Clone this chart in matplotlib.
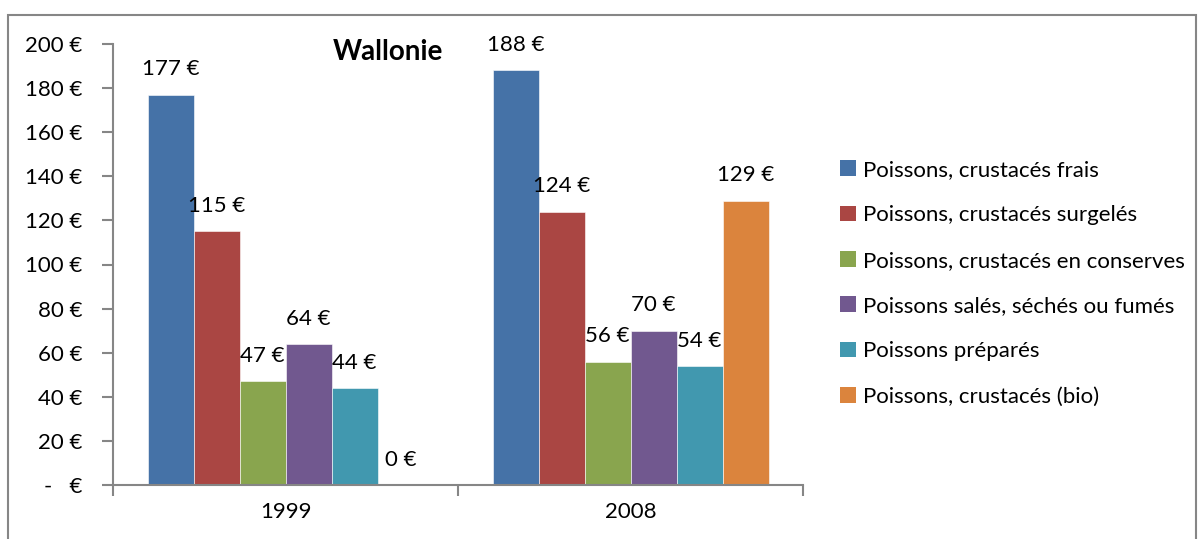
import numpy as np
import matplotlib.pyplot as plt
from matplotlib.patches import Rectangle, Patch

years = ['1999', '2008']
series = ['Poissons, crustacés frais',
          'Poissons, crustacés surgelés',
          'Poissons, crustacés en conserves',
          'Poissons salés, séchés ou fumés',
          'Poissons préparés',
          'Poissons, crustacés (bio)']
frais = [177, 188]
surgeles = [115, 124]
conserves = [47, 56]
sales = [64, 70]
prepares = [44, 54]
bio = [0, 129]
values = [frais, surgeles, conserves, sales, prepares, bio]
colors = ['#4572A7', '#AA4643', '#89A54E', '#71588F', '#4198AF', '#DB843D']

plt.rcParams['font.family'] = ['Lato', 'DejaVu Sans']
W, H = 1199, 539
fig = plt.figure(figsize=(W / 100, H / 100), dpi=100)

# outer chart border
fig.patches.append(Rectangle((8 / W, -0.05), (1196 - 8) / W, 1.05 - 15 / H,
                             transform=fig.transFigure, fill=False,
                             edgecolor='#868686', linewidth=1.5))

ax = fig.add_axes([113 / W, (H - 485) / H, 690 / W, 441 / H])
axis_col = '#868686'
w = 46 / 345
x = np.arange(len(years)) + 0.5
for j, (vals, c) in enumerate(zip(values, colors)):
    pos = x + (j - 2.5) * w
    ax.bar(pos, vals, width=w, color=c, edgecolor='white', linewidth=0.4)
    for p, v in zip(pos, vals):
        ax.text(p, v + 11.5, f'{v} €', ha='center', va='center', fontsize=16)

ax.set_xlim(0, 2)
ax.set_ylim(0, 200)
yt = np.arange(0, 201, 20)
ax.set_yticks(yt)
ax.set_yticklabels(['-   €' if v == 0 else f'{v} €' for v in yt], fontsize=16)
ax.set_xticks([0, 1, 2])
ax.set_xticklabels([])
ax.set_xticks(x, minor=True)
ax.set_xticklabels(years, minor=True, fontsize=16)
ax.tick_params(axis='x', which='minor', length=0, pad=12)
ax.tick_params(axis='x', which='major', length=8, color=axis_col, width=1.5, direction='out')
ax.tick_params(axis='y', length=8, color=axis_col, width=1.5, direction='out', pad=14)
for s in ['top', 'right']:
    ax.spines[s].set_visible(False)
for s in ['left', 'bottom']:
    ax.spines[s].set_color(axis_col)
    ax.spines[s].set_linewidth(1.5)

fig.text(388 / W, 1 - 52 / H, 'Wallonie', ha='center', va='center',
         fontsize=20, fontweight='bold')

handles = [Patch(facecolor=c, edgecolor='none') for c in colors]
fig.legend(handles, series, loc='upper left', bbox_to_anchor=(840 / W, 1 - 160 / H),
           frameon=False, fontsize=16, handlelength=0.7, handleheight=0.7,
           handletextpad=0.35, labelspacing=1.14, borderpad=0, borderaxespad=0)

fig.savefig('out.png', dpi=100)
